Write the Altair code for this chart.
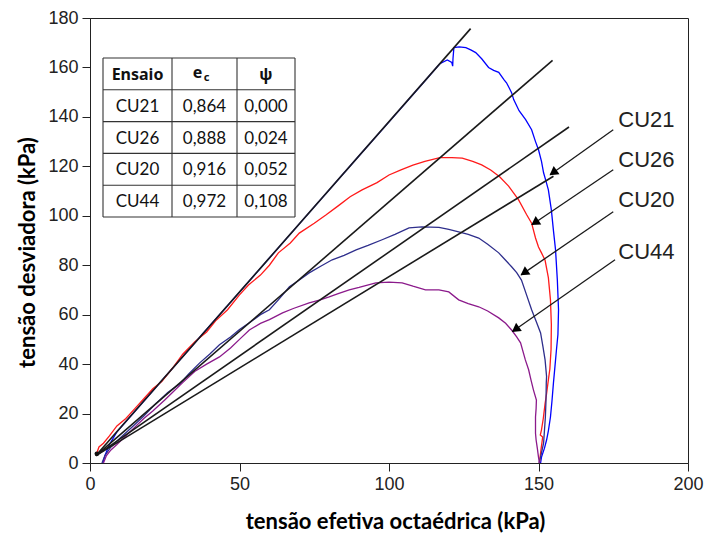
import math
import altair as alt
import pandas as pd

# ---------------- data ----------------
cu26_x = [2.0, 3.0, 4.5, 6.5, 9, 12, 15, 18, 21, 24,
          28, 31, 35, 39, 42, 46, 50, 53, 57, 60,
          63, 67, 70, 75, 79, 83, 87, 91, 96, 100,
          104, 108, 112, 117, 121, 124.5, 128, 131, 134, 137,
          140, 143.3, 146, 147.7, 149, 150, 151, 152.2, 153.3, 154,
          154.3, 154.2, 153.8, 153.3, 152.7, 152.2, 151.6, 151.0, 150.6, 151.4,
          150.9, 150.3]
cu26_y = [3.0, 6.5, 8, 11, 15, 18, 22, 26, 30, 33,
          39, 44, 49, 53, 57.5, 62, 68, 72, 76, 80,
          85, 89, 93, 97, 100.4, 104, 107.7, 110.5, 113.4, 116.5,
          118.6, 120.5, 122, 123.5, 123.5, 123.3, 122, 120.6, 118.5, 115.8,
          112, 106.5, 100.5, 97, 91, 87.4, 85, 82, 75, 66,
          56, 46, 38, 33.6, 28, 24, 18, 13.4, 11.3, 10.5,
          6, 0]

cu21_x = [4.3, 5.0, 6.5, 9, 14, 20, 30, 40, 50, 60,
          70, 80, 90, 100, 110, 117, 119.5, 121, 121.3, 121.4,
          121.7, 123.5, 125.7, 127.5, 129, 131, 133.3, 135, 136.7, 138.5,
          139.3, 140.3, 141, 141.7, 143.5, 145.7, 147.7, 149, 150, 151,
          151.7, 152.5, 153.3, 154.3, 155, 155.7, 156.3, 156.7, 156.5, 156,
          155.5, 155, 154.5, 154, 153.3, 152.7, 152, 151, 150.7]
cu21_y = [0, 3, 7.5, 12.6, 19.5, 27.8, 41.6, 55.4, 69.1, 82.9,
          96.7, 110.5, 124.3, 138, 151.8, 161.5, 163, 162, 160.5, 163.5,
          168, 168.3, 168, 167, 166, 163.5, 160, 158.8, 158, 155,
          153.8, 151.5, 149.8, 147, 142.5, 138.9, 134.8, 130, 126.7, 122,
          117.4, 114, 110.5, 102.4, 94, 86.2, 74, 62, 52, 45.7,
          39, 32.4, 25, 18.6, 13, 9.3, 6, 2.4, 0]

cu20_x = [4.0, 5, 7, 10, 14, 18, 22, 26, 30, 33,
          36.7, 40, 43.3, 47, 50, 53.3, 57, 60, 63, 66.7,
          70, 73.3, 77, 81, 85, 89, 93, 97.7, 102, 106.7,
          111, 116.7, 120, 123.3, 126.5, 130, 133, 136.7, 139, 141,
          142.7, 144.3, 146, 147.7, 149.3, 150.7, 151.5, 152.2, 152.7, 152.6,
          152.5, 152.3, 151.7, 150.8, 150.2]
cu20_y = [0, 3, 6.5, 10, 14.5, 19, 24, 28.5, 32, 36,
          40.5, 44, 47.8, 51, 54, 56.7, 60, 62, 66, 71.3,
          74, 76.9, 79.5, 82.2, 84, 86.2, 88, 90.3, 92.5, 95.1,
          95.5, 95.3, 94.5, 93.5, 92.5, 91, 88.5, 85, 82, 79.4,
          77, 74, 68, 62, 57, 52.6, 47, 41.7, 35, 32.4,
          25, 18.6, 8, 3, 0]

cu44_x = [4.5, 5.5, 7, 9, 12, 15, 18, 21, 25, 28,
          31, 35, 39, 43.3, 47, 50, 53.3, 57, 60, 64.4,
          68, 73.3, 77, 80, 83, 86.7, 90, 95.6, 100, 104.4,
          108, 112.2, 116.7, 120, 123.3, 126.5, 130, 133, 136.7, 139,
          141, 142.7, 144, 145.6, 146.7, 147.5, 148.3, 149.3, 149.2, 149,
          149, 149.2, 149.6, 150, 150.3]
cu44_y = [0, 3, 5.3, 7.5, 11, 14.5, 18, 21, 25.5, 29,
          32.5, 37, 40, 42.9, 46.5, 50, 53.8, 56.5, 58, 60.7,
          62.5, 64.8, 66, 67.2, 68.5, 70, 71, 72.9, 73.2, 72.9,
          71.5, 70, 70, 69.2, 66, 64.5, 63.2, 61.5, 58.7, 56.5,
          53.8, 51, 48.6, 41.7, 37.7, 33.5, 29.6, 25.5, 22, 18.6,
          12, 9.3, 6, 2.4, 0]

series_names = ["CU21", "CU26", "CU20", "CU44"]
series_colors = ["#0000FF", "#FF1A1A", "#2E2E8C", "#8B1A8B"]

# straight reference lines (start / end)
ref_x0 = [2.0, 2.0, 2.0, 2.0]
ref_y0 = [3.0, 3.0, 3.0, 3.0]
ref_x1 = [127.3, 154.7, 160.2, 155.0]
ref_y1 = [175.7, 162.9, 135.9, 116.0]

# arrow annotations
arrow_labels = ["CU21", "CU26", "CU20", "CU44"]
arrow_x0 = [175.0, 175.0, 175.0, 175.6]
arrow_y0 = [134.8, 118.6, 101.6, 82.2]
arrow_x1 = [153.9, 147.8, 144.2, 141.3]
arrow_y1 = [116.6, 96.4, 76.1, 53.2]
label_x = [176.7, 176.7, 176.7, 176.7]
label_y = [138.9, 122.7, 106.5, 85.4]

# table
table_header = ["Ensaio", "e", "ψ"]
table_ensaio = ["CU21", "CU26", "CU20", "CU44"]
table_ec = ["0,864", "0,888", "0,916", "0,972"]
table_psi = ["0,000", "0,024", "0,052", "0,108"]

# ---------------- layout ----------------
W, H = 598, 445
XMAX, YMAX = 200, 180
sx, sy = W / XMAX, H / YMAX

xs = alt.Scale(domain=[0, XMAX], nice=False, zero=False)
ys = alt.Scale(domain=[0, YMAX], nice=False, zero=False)

x_axis = alt.Axis(values=[0, 50, 100, 150, 200], title="tensão efetiva octaédrica (kPa)",
                  titleX=305, titleY=58, titleBaseline="middle", labelFlush=False,
                  titleFontSize=22)
y_axis = alt.Axis(values=list(range(0, 181, 20)), title="tensão desviadora (kPa)",
                  titleX=-63, titleY=234, titleBaseline="middle", titleAlign="center",
                  labelFlush=False, titleFontSize=22)

rows = []
for name, (xx, yy) in zip(series_names, [(cu21_x, cu21_y), (cu26_x, cu26_y),
                                          (cu20_x, cu20_y), (cu44_x, cu44_y)]):
    assert len(xx) == len(yy), name
    for i, (a, b) in enumerate(zip(xx, yy)):
        rows.append({"serie": name, "i": i, "x": a, "y": b})
curves_df = pd.DataFrame(rows)

curves = alt.Chart(curves_df).mark_line(strokeWidth=1.3).encode(
    x=alt.X("x:Q", scale=xs, axis=x_axis),
    y=alt.Y("y:Q", scale=ys, axis=y_axis),
    color=alt.Color("serie:N", scale=alt.Scale(domain=series_names, range=series_colors), legend=None),
    order="i:Q",
)

ref_rows = []
for k in range(len(ref_x0)):
    ref_rows.append({"line": k, "i": 0, "x": ref_x0[k], "y": ref_y0[k]})
    ref_rows.append({"line": k, "i": 1, "x": ref_x1[k], "y": ref_y1[k]})
ref_df = pd.DataFrame(ref_rows)
refs = alt.Chart(ref_df).mark_line(color="#1a1a1a", strokeWidth=1.6).encode(
    x=alt.X("x:Q", scale=xs), y=alt.Y("y:Q", scale=ys), detail="line:N", order="i:Q")

start_df = pd.DataFrame({"x": [ref_x0[0] + 0.3], "y": [ref_y0[0] + 0.7]})
start = alt.Chart(start_df).mark_point(filled=True, color="#111", size=22, opacity=1).encode(
    x=alt.X("x:Q", scale=xs), y=alt.Y("y:Q", scale=ys))

# arrows
arr_rows, head_rows = [], []
for k, lab in enumerate(arrow_labels):
    arr_rows.append({"a": lab, "i": 0, "x": arrow_x0[k], "y": arrow_y0[k]})
    arr_rows.append({"a": lab, "i": 1, "x": arrow_x1[k], "y": arrow_y1[k]})
    dxp = (arrow_x1[k] - arrow_x0[k]) * sx
    dyp = -(arrow_y1[k] - arrow_y0[k]) * sy
    ang = math.degrees(math.atan2(dxp, -dyp)) % 360
    L = math.hypot(dxp, dyp)
    back = 5.0
    hx = arrow_x1[k] - dxp / L * back / sx
    hy = arrow_y1[k] + dyp / L * back / sy
    head_rows.append({"x": hx, "y": hy, "ang": ang})
arr_df = pd.DataFrame(arr_rows)
head_df = pd.DataFrame(head_rows)
arrows = alt.Chart(arr_df).mark_line(color="#1a1a1a", strokeWidth=1.3).encode(
    x=alt.X("x:Q", scale=xs), y=alt.Y("y:Q", scale=ys), detail="a:N", order="i:Q")
heads = alt.Chart(head_df).mark_point(shape="triangle", filled=True, color="#000", size=100, opacity=1).encode(
    x=alt.X("x:Q", scale=xs), y=alt.Y("y:Q", scale=ys), angle=alt.Angle("ang:Q", scale=None))
lab_df = pd.DataFrame({"x": label_x, "y": label_y, "t": arrow_labels})
labels = alt.Chart(lab_df).mark_text(align="left", baseline="middle", font="Liberation Sans",
                                     fontSize=22, color="#222").encode(
    x=alt.X("x:Q", scale=xs), y=alt.Y("y:Q", scale=ys), text="t:N")

# table (pixel layout inside plot)
t_left, t_top = 13, 40
col_w = [69, 65, 58]
row_h = 31.8
n_rows = 1 + len(table_ensaio)
col_edges = [t_left]
for w in col_w:
    col_edges.append(col_edges[-1] + w)
row_edges = [t_top + r * row_h for r in range(n_rows + 1)]
rule_rows = []
for yv in row_edges:
    rule_rows.append({"px": col_edges[0], "px2": col_edges[-1], "py": yv, "py2": yv})
for xv in col_edges:
    rule_rows.append({"px": xv, "px2": xv, "py": row_edges[0], "py2": row_edges[-1]})
rules = alt.Chart(pd.DataFrame(rule_rows)).mark_rule(color="#333", strokeWidth=1.1).encode(
    x=alt.X("px:Q", scale=None, axis=None), x2="px2:Q",
    y=alt.Y("py:Q", scale=None, axis=None), y2="py2:Q")

col_c = [(col_edges[c] + col_edges[c + 1]) / 2 for c in range(3)]
row_c = [(row_edges[r] + row_edges[r + 1]) / 2 for r in range(n_rows)]
body_rows = []
for r in range(len(table_ensaio)):
    for c, vals in enumerate([table_ensaio, table_ec, table_psi]):
        body_rows.append({"px": col_c[c], "py": row_c[r + 1] + 1, "t": vals[r]})
body = alt.Chart(pd.DataFrame(body_rows)).mark_text(font="Lato", fontSize=17, color="#111",
                                                     baseline="middle", align="center").encode(
    x=alt.X("px:Q", scale=None, axis=None), y=alt.Y("py:Q", scale=None, axis=None), text="t:N")
head_txt = pd.DataFrame({"px": [col_c[0], col_c[1] - 7, col_c[2]],
                         "py": [row_c[0] + 1, row_c[0] - 1, row_c[0] + 1],
                         "t": table_header})
hdr = alt.Chart(head_txt).mark_text(font="Noto Sans", fontSize=16, fontWeight="bold", color="#111",
                                    baseline="middle", align="center").encode(
    x=alt.X("px:Q", scale=None, axis=None), y=alt.Y("py:Q", scale=None, axis=None), text="t:N")
sub_df = pd.DataFrame({"px": [col_c[1] + 2], "py": [row_c[0] + 4], "t": ["c"]})
sub = alt.Chart(sub_df).mark_text(font="Noto Sans", fontSize=11, fontWeight="bold", color="#111",
                                  baseline="middle", align="center").encode(
    x=alt.X("px:Q", scale=None, axis=None), y=alt.Y("py:Q", scale=None, axis=None), text="t:N")

chart = alt.layer(curves, refs, start, arrows, heads, labels, rules, body, hdr, sub).properties(
    width=W, height=H,
    autosize=alt.AutoSizeParams(type="none"),
    padding={"left": 90, "top": 18, "right": 23, "bottom": 75},
).configure_view(stroke="#222", strokeWidth=1).configure_axis(
    grid=False, domainColor="#222", tickColor="#222", tickSize=8, tickWidth=1,
    labelFont="Liberation Sans", labelFontSize=18, labelColor="#222", labelPadding=4,
    titleFont="Lato", titleFontWeight="bold", titleColor="#000",
)

chart.save("out.html", embed_options={"renderer": "svg", "actions": False})
